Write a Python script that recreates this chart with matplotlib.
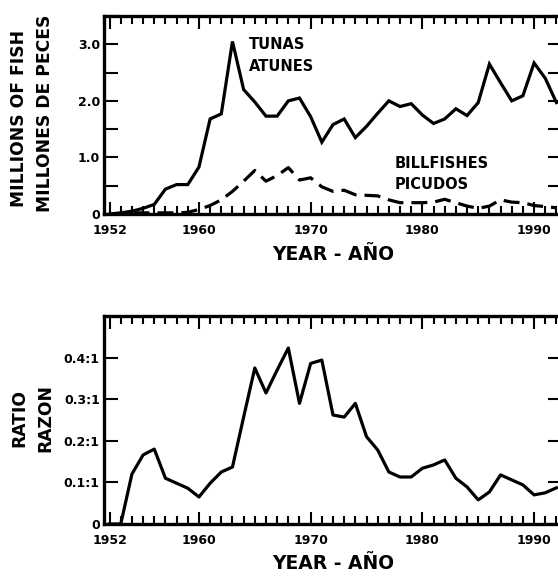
import matplotlib
matplotlib.use("Agg")
import matplotlib.pyplot as plt
from matplotlib.ticker import MultipleLocator, FixedLocator

years = list(range(1952, 1993))

tunas = [0.00, 0.02, 0.05, 0.10, 0.17, 0.44, 0.52, 0.52, 0.83, 1.68,
         1.77, 3.05, 2.20, 1.98, 1.73, 1.73, 2.00, 2.05, 1.72, 1.27,
         1.58, 1.68, 1.35, 1.55, 1.78, 2.00, 1.90, 1.95, 1.75, 1.60,
         1.68, 1.86, 1.74, 1.97, 2.65, 2.32, 2.00, 2.09, 2.67, 2.40,
         1.97]

billfishes = [0.00, 0.01, 0.02, 0.02, 0.02, 0.02, 0.02, 0.03, 0.08, 0.15,
              0.25, 0.40, 0.58, 0.77, 0.58, 0.68, 0.82, 0.60, 0.64, 0.48,
              0.40, 0.42, 0.34, 0.33, 0.32, 0.25, 0.20, 0.20, 0.20, 0.21,
              0.26, 0.20, 0.14, 0.10, 0.14, 0.25, 0.21, 0.20, 0.15, 0.13,
              0.11]

ratio = [0.00, 0.00, 0.12, 0.166, 0.18, 0.11, 0.098, 0.086, 0.065, 0.098,
         0.125, 0.137, 0.257, 0.375, 0.315, 0.37, 0.423, 0.29, 0.386, 0.394,
         0.262, 0.257, 0.29, 0.21, 0.178, 0.125, 0.113, 0.113, 0.134, 0.142,
         0.154, 0.11, 0.089, 0.058, 0.077, 0.118, 0.106, 0.094, 0.07, 0.075,
         0.087]

year_ticks = [1952, 1960, 1970, 1980, 1990]
year_labels = ["1952", "1960", "1970", "1980", "1990"]
fish_ticks = [0, 1.0, 2.0, 3.0]
fish_labels = ["0", "1.0", "2.0", "3.0"]
ratio_ticks = [0, 0.1, 0.2, 0.3, 0.4]
ratio_labels = ["0", "0.1:1", "0.2:1", "0.3:1", "0.4:1"]

FONT = "DejaVu Sans"
LW = 2.3
TICK_FS = 9

fig = plt.figure(figsize=(5.58, 5.76), dpi=100)
W, H = 558, 576


def place(x0, y0, x1, y1):
    return [x0 / W, 1 - y1 / H, (x1 - x0) / W, (y1 - y0) / H]


ax1 = fig.add_axes(place(104, 16, 562, 214))
ax2 = fig.add_axes(place(104, 316, 562, 524))


def style_axes(ax):
    for s in ax.spines.values():
        s.set_linewidth(2.4)
    ax.set_xlim(1951.5, 1992.5)
    ax.xaxis.set_major_locator(FixedLocator(year_ticks))
    ax.set_xticklabels(year_labels, fontfamily=FONT, fontweight="bold",
                       fontsize=TICK_FS)
    ax.xaxis.set_minor_locator(MultipleLocator(1))
    ax.tick_params(axis="x", which="major", direction="in", length=9,
                   width=1.5, top=True, bottom=True, pad=7)
    ax.tick_params(axis="x", which="minor", direction="in", length=6,
                   width=1.5, top=True, bottom=True)
    ax.tick_params(axis="y", which="both", direction="in", length=10,
                   width=1.5, left=True, right=True, pad=3)


label_kw = dict(fontfamily=FONT, fontweight="bold", fontsize=10.5,
                va="center", ha="left")

style_axes(ax1)
ax1.plot(years, tunas, color="black", lw=LW, solid_joinstyle="miter")
ax1.plot(years, billfishes, color="black", lw=LW, dashes=(5, 2.5))
ax1.set_ylim(0, 3.5)
ax1.yaxis.set_major_locator(FixedLocator(fish_ticks))
ax1.set_yticklabels(fish_labels, fontfamily=FONT, fontweight="bold",
                    fontsize=TICK_FS)
ax1.yaxis.set_minor_locator(MultipleLocator(0.5))
ax1.tick_params(axis="y", which="minor", direction="in", length=10,
                width=1.5, left=True, right=True)
ax1.set_xlabel("YEAR - AÑO", fontfamily=FONT, fontweight="bold",
               fontsize=13.5, labelpad=6)
ax1.text(1964.5, 3.0, "TUNAS", **label_kw)
ax1.text(1964.5, 2.61, "ATUNES", **label_kw)
ax1.text(1977.5, 0.895, "BILLFISHES", **label_kw)
ax1.text(1977.5, 0.526, "PICUDOS", **label_kw)

style_axes(ax2)
ax2.plot(years, ratio, color="black", lw=LW)
ax2.set_ylim(0, 0.5)
ax2.yaxis.set_major_locator(FixedLocator(ratio_ticks))
ax2.set_yticklabels(ratio_labels, fontfamily=FONT, fontweight="bold",
                    fontsize=TICK_FS)
ax2.set_xlabel("YEAR - AÑO", fontfamily=FONT, fontweight="bold",
               fontsize=13.5, labelpad=5)

ylab = dict(fontfamily=FONT, fontweight="bold", fontsize=12.3,
            rotation=90, ha="center", va="center")
fig.text(19 / W, 1 - 118 / H, "MILLIONS OF FISH", **ylab)
fig.text(45 / W, 1 - 113 / H, "MILLONES DE PECES", **ylab)
fig.text(19 / W, 1 - 418 / H, "RATIO", **ylab)
fig.text(45 / W, 1 - 418 / H, "RAZON", **ylab)

fig.savefig("out.png", dpi=100)
